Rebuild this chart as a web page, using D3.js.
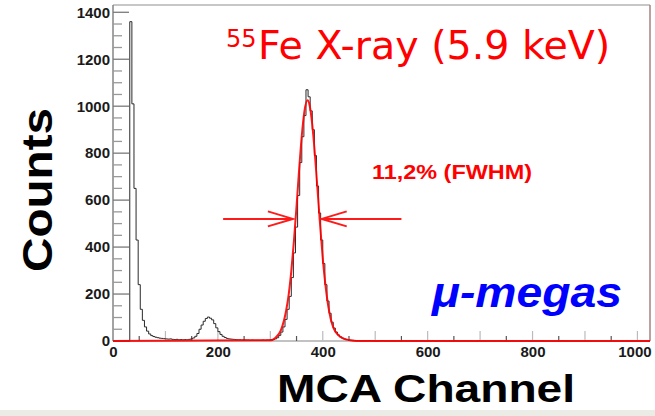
<!DOCTYPE html>
<html>
<head>
<meta charset="utf-8">
<script src="https://cdn.jsdelivr.net/npm/d3@7"></script>
<style>
  body { margin: 0; background: #fff; }
  svg { display: block; }
  .tick-label text { font-family: "Liberation Sans", Arial, sans-serif; font-weight: bold; font-size: 15px; fill: #1a1a1a; }
  .bold-label { font-family: "Liberation Sans", Arial, sans-serif; font-weight: bold; }
</style>
</head>
<body>
<div id="chart"></div>
<script>
// ── Data ──────────────────────────────────────────────────────────
// MCA spectrum, 4 channels per bin, starting at channel 0
const binWidth = 4;
const counts = [
    0, 0, 0, 0, 0, 0, 0, 0, 1360, 1010, 650, 430, 240, 135, 88, 60,
    42, 30, 23, 19, 16, 14, 12, 11, 10, 9, 8, 9, 7, 6, 7, 5,
    6, 5, 6, 5, 7, 9, 13, 20, 32, 50, 68, 84, 96, 102, 97, 90,
    74, 56, 40, 28, 20, 15, 11, 9, 8, 7, 6, 5, 5, 4, 5, 4,
    4, 3, 4, 3, 3, 3, 3, 4, 3, 4, 4, 5, 6, 9, 14, 24,
    38, 60, 92, 135, 190, 270, 375, 485, 620, 760, 870, 960, 1070, 1040, 980, 900,
    790, 660, 545, 430, 330, 240, 170, 118, 80, 55, 38, 26, 18, 12, 8, 6,
    4, 3, 3, 2, 2, 2, 1, 2, 1, 1, 2, 1, 1, 0, 1, 1,
    2, 1, 0, 1, 1, 1, 0, 1, 1, 0, 1, 1, 0, 1, 1, 0,
    1, 0, 1, 1, 0, 0, 1, 0, 1, 0, 0, 1, 0, 1, 0, 0,
    1, 0, 0, 1, 0, 0, 0, 1, 0, 0, 1, 0, 0, 0, 1, 0,
    0, 0, 0, 1, 0, 0, 0, 0, 1, 0, 0, 0, 0, 0, 1, 0,
    0, 0, 0, 0, 0, 1, 0, 0, 0, 0, 0, 0, 1, 0, 0, 0,
    0, 0, 0, 0, 0, 0, 1, 0, 0, 0, 0, 0, 0, 0, 0, 0,
    0, 0, 0, 0, 0, 0, 0, 0, 0, 0, 0, 0, 0, 0, 0, 0,
    0, 0, 0, 0, 0, 0, 0, 0, 0, 0, 0, 0, 0, 0, 0, 0
];

// Gaussian fit curve (red)
const fitChannels = [0, 300, 310, 320, 330, 335, 340, 345, 350, 355, 360, 365, 371, 375, 380, 385, 390, 395, 400, 405, 410, 415, 420, 430, 440, 450, 465, 1024];
const fitCounts   = [0, 3, 14, 45, 128, 198, 298, 425, 574, 732, 874, 978, 1025, 1003, 921, 795, 645, 492, 352, 240, 155, 96, 58, 24, 10, 4, 0, 0];

// FWHM arrows (channel ranges) at half-maximum level
const fwhmLevel = 520;
const arrowLeft = [210, 343];
const arrowRight = [550, 398];

// Ticks
const xTickLabels = [0, 200, 400, 600, 800, 1000];
const xMidTicks = [100, 200, 300, 400, 500, 600, 700, 800, 900, 1000];
const xSmallTicks = [50, 150, 250, 350, 450, 550, 650, 750, 850, 950];
const yTickLabels = [0, 200, 400, 600, 800, 1000, 1200, 1400];
const yMinorTicks = d3.range(50, 1431, 50).filter(v => v % 200 !== 0);

// ── Layout ────────────────────────────────────────────────────────
const width = 655;
const height = 416;
const plot = { left: 113, right: 650, top: 5, bottom: 341 };

const svg = d3.select("#chart")
    .append("svg")
    .attr("width", width)
    .attr("height", height);

// slide background strip at the bottom
svg.append("rect")
    .attr("x", 0).attr("y", 410)
    .attr("width", width).attr("height", 6)
    .attr("fill", "#ecece6");

const xScale = d3.scaleLinear().domain([0, 1024]).range([plot.left, plot.right]);
const yScale = d3.scaleLinear().domain([0, 1431]).range([plot.bottom, plot.top]);

// Frame
svg.append("line")
    .attr("x1", plot.left).attr("x2", plot.right)
    .attr("y1", plot.top).attr("y2", plot.top)
    .attr("stroke", "#b4b4b4").attr("stroke-width", 1.5);
svg.append("line")
    .attr("x1", plot.right).attr("x2", plot.right)
    .attr("y1", plot.top).attr("y2", plot.bottom)
    .attr("stroke", "#a88080").attr("stroke-width", 1.5);
svg.append("line")
    .attr("x1", plot.left).attr("x2", plot.left)
    .attr("y1", plot.top).attr("y2", plot.bottom)
    .attr("stroke", "#858585").attr("stroke-width", 1.5);
svg.append("line")
    .attr("x1", plot.left).attr("x2", plot.right)
    .attr("y1", plot.bottom).attr("y2", plot.bottom)
    .attr("stroke", "#858585").attr("stroke-width", 1);

// Y ticks (pointing inward)
svg.append("g").selectAll("line")
    .data(yTickLabels)
    .join("line")
    .attr("x1", plot.left).attr("x2", plot.left + 16)
    .attr("y1", d => yScale(d)).attr("y2", d => yScale(d))
    .attr("stroke", "#7a7a7a").attr("stroke-width", 1.3);
svg.append("g").selectAll("line")
    .data(yMinorTicks)
    .join("line")
    .attr("x1", plot.left).attr("x2", plot.left + 9)
    .attr("y1", d => yScale(d)).attr("y2", d => yScale(d))
    .attr("stroke", "#999").attr("stroke-width", 1.3);

// X ticks (pointing upward)
svg.append("g").selectAll("line")
    .data(xMidTicks)
    .join("line")
    .attr("x1", d => xScale(d)).attr("x2", d => xScale(d))
    .attr("y1", plot.bottom).attr("y2", plot.bottom - 10)
    .attr("stroke", "#bbb").attr("stroke-width", 1.2);
svg.append("g").selectAll("line")
    .data(xSmallTicks)
    .join("line")
    .attr("x1", d => xScale(d)).attr("x2", d => xScale(d))
    .attr("y1", plot.bottom).attr("y2", plot.bottom - 5)
    .attr("stroke", "#555").attr("stroke-width", 1.2);

// Tick labels
const leftAxis = d3.axisLeft(yScale)
    .tickValues(yTickLabels)
    .tickFormat(d3.format("d"))
    .tickSize(0).tickPadding(3);
svg.append("g")
    .attr("class", "tick-label")
    .attr("transform", `translate(${plot.left},0)`)
    .call(leftAxis)
    .call(g => g.select(".domain").remove());

const bottomAxis = d3.axisBottom(xScale)
    .tickValues(xTickLabels)
    .tickFormat(d3.format("d"))
    .tickSize(0).tickPadding(5);
svg.append("g")
    .attr("class", "tick-label")
    .attr("transform", `translate(0,${plot.bottom})`)
    .call(bottomAxis)
    .call(g => g.select(".domain").remove())
    .call(g => g.selectAll(".tick").filter(d => d === 1000).select("text").attr("dx", -3));

// Histogram (step line)
const stepPoints = counts.map((c, i) => [i * binWidth, c]);
stepPoints.push([counts.length * binWidth, counts[counts.length - 1]]);

const histLine = d3.line()
    .x(d => xScale(d[0]))
    .y(d => yScale(d[1]))
    .curve(d3.curveStepAfter);

svg.append("path")
    .datum(stepPoints)
    .attr("d", histLine)
    .attr("fill", "none")
    .attr("stroke", "#2a2a2a")
    .attr("stroke-width", 1);

// Fit curve
const fitLine = d3.line()
    .x((d, i) => xScale(fitChannels[i]))
    .y(d => yScale(d))
    .curve(d3.curveMonotoneX);

svg.append("path")
    .datum(fitCounts)
    .attr("d", fitLine)
    .attr("fill", "none")
    .attr("stroke", "#ff0000")
    .attr("stroke-width", 2)
    .attr("stroke-opacity", 0.9);

// FWHM arrows
const drawArrow = (from, to) => {
    const y = yScale(fwhmLevel);
    const x0 = xScale(from);
    const x1 = xScale(to);
    const dir = Math.sign(x1 - x0);
    const g = svg.append("g")
        .attr("stroke", "#ff1a1a")
        .attr("stroke-width", 2)
        .attr("fill", "none");
    g.append("line").attr("x1", x0).attr("x2", x1).attr("y1", y).attr("y2", y);
    g.append("polyline")
        .attr("points", `${x1 - dir * 25},${y - 7.5} ${x1},${y} ${x1 - dir * 25},${y + 7.5}`);
};
drawArrow(arrowLeft[0], arrowLeft[1]);
drawArrow(arrowRight[0], arrowRight[1]);

// Annotations
svg.append("text")
    .attr("class", "bold-label")
    .attr("x", 372).attr("y", 179)
    .attr("font-size", 21)
    .attr("textLength", 160)
    .attr("lengthAdjust", "spacingAndGlyphs")
    .attr("fill", "#ff0000")
    .text("11,2% (FWHM)");

const title = svg.append("text")
    .attr("x", 226).attr("y", 59)
    .attr("fill", "#ff0000")
    .attr("font-family", "'DejaVu Sans', sans-serif");
title.append("tspan")
    .attr("font-size", 24)
    .attr("dy", -12)
    .text("55");
title.append("tspan")
    .attr("x", 258)
    .attr("dy", 12)
    .attr("font-size", 39.5)
    .text("Fe X-ray (5.9 keV)");

svg.append("text")
    .attr("class", "bold-label")
    .attr("x", 432).attr("y", 307)
    .attr("font-size", 42)
    .attr("font-style", "italic")
    .attr("textLength", 190)
    .attr("lengthAdjust", "spacingAndGlyphs")
    .attr("fill", "#0000ff")
    .text("μ-megas");

// Axis titles
svg.append("text")
    .attr("class", "bold-label")
    .attr("transform", "translate(52,190) rotate(-90)")
    .attr("text-anchor", "middle")
    .attr("font-size", 43)
    .attr("textLength", 164)
    .attr("lengthAdjust", "spacingAndGlyphs")
    .attr("fill", "#000")
    .text("Counts");

svg.append("text")
    .attr("class", "bold-label")
    .attr("x", 277).attr("y", 402)
    .attr("font-size", 38)
    .attr("textLength", 298)
    .attr("lengthAdjust", "spacingAndGlyphs")
    .attr("fill", "#000")
    .text("MCA Channel");
</script>
</body>
</html>
